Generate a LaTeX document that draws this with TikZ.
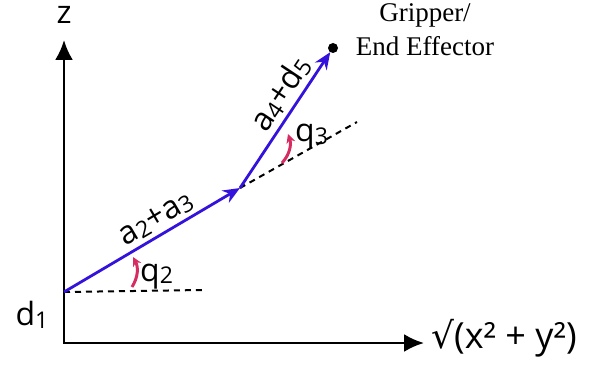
\documentclass[tikz,border=0pt]{standalone}
\usepackage{fontspec}
\setmainfont{Open Sans}
\newfontfamily\gripfont{Liberation Serif}
\newfontfamily\symfont{DejaVu Sans}
\usetikzlibrary{arrows.meta}

\definecolor{linkblue}{RGB}{52,18,220}
\definecolor{anglered}{RGB}{214,44,98}

% lowered small digit
\newcommand\lo[1]{\raisebox{-0.08em}{\scalebox{0.72}{#1}}}

\begin{document}
\begin{tikzpicture}[x=1pt,y=1pt,
  axis/.style={line width=2.5pt, {Latex[length=20pt,width=18pt]}-{Latex[length=20pt,width=18pt]}},
  link/.style={linkblue, line width=2.8pt, -{Stealth[length=17pt,width=14pt]}},
  guide/.style={dash pattern=on 6pt off 5pt, line width=2pt},
  turn/.style={anglered, line width=3pt, -{Stealth[length=9pt,width=9pt]}, bend right=30},
  lbl/.style={font=\fontsize{32}{38}\selectfont, text=black, inner sep=0pt}
]
\useasboundingbox (0,0) rectangle (596,367);

% Axes
\coordinate (O) at (64,24);
\coordinate (ztip) at (64,327);
\coordinate (rtip) at (424,24);
\draw[axis] (ztip) -- (O) -- (rtip);
\node[lbl] (zlbl) at (64,352) {z};
\node[lbl] (dlbl) at (32,52) {d\lo{1}};
\node[lbl, anchor=west, font=\fontsize{36}{40}\selectfont] (rlbl) at (431,29) {{\symfont √}(x² + y²)};

% Joints and tip
\coordinate (J1) at (64,75);
\coordinate (J2) at (240,179);
\coordinate (E) at (333,319);
\coordinate (g1) at (203,77);
\coordinate (g2) at (357,245);

% Reference lines
\draw[guide] (J1) -- (g1);
\draw[guide] (J2) -- (g2);

% Links
\draw[link] (J1) -- node[lbl, sloped, above=4pt, pos=0.57] (l23) {a\lo{2}+a\lo{3}} (J2);
\draw[link, shorten >=5pt] (J2) -- node[lbl, sloped, above=4pt, pos=0.6] (l45) {a\lo{4}+d\lo{5}} (E);
\fill (E) circle (5pt);
\node[font=\gripfont\fontsize{27}{34}\selectfont, align=center, inner sep=0pt] (grip) at (425,337) {Gripper/\\End Effector};

% Joint angles
\coordinate (q2from) at (132,80);
\coordinate (q2to) at (133,110);
\coordinate (q3from) at (282,204);
\coordinate (q3to) at (288,233);
\draw[turn] (q2from) to (q2to);
\draw[turn] (q3from) to (q3to);
\node[lbl, anchor=base west] (q2lbl) at (140,86) {q\lo{2}};
\node[lbl, anchor=base west] (q3lbl) at (295,225) {q\lo{3}};

\end{tikzpicture}
\end{document}
